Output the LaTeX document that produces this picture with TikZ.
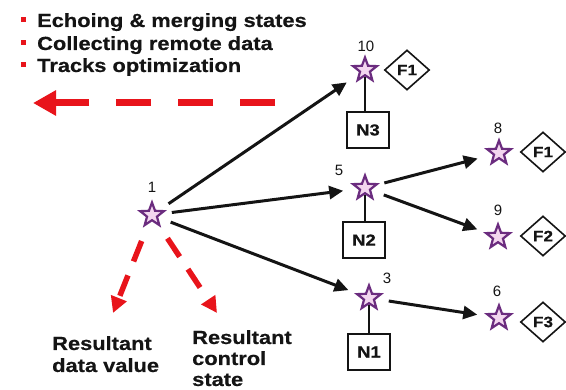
\documentclass[tikz,border=0pt]{standalone}
\usepackage{fontspec}
\setmainfont{Liberation Sans}
\newfontfamily\heavy{Liberation Sans Bold}[FakeStretch=1.15,FakeBold=0.5]
\usetikzlibrary{shapes.geometric,arrows.meta}
\definecolor{starpurple}{HTML}{6B2C7F}
\definecolor{starfill}{HTML}{F3D6EF}
\definecolor{redarrow}{HTML}{E8141B}
\definecolor{ink}{HTML}{141414}
\tikzset{
  pstar/.style={shape=star, star points=5, star point ratio=2.4, minimum size=25pt, inner sep=0pt, draw=starpurple, line width=2.2pt, fill=starfill},
  nbox/.style={draw=ink, line width=1.6pt, minimum width=42pt, minimum height=36pt, inner sep=0pt, font=\heavy\fontsize{16}{18}\selectfont, text=ink},
  dia/.style={shape=diamond, draw=ink, line width=1.6pt, minimum width=45pt, minimum height=40pt, inner sep=0pt, font=\heavy\fontsize{15}{18}\selectfont, text=ink},
  num/.style={font=\fontsize{15}{18}\selectfont, inner sep=0pt, text=ink},
  arr/.style={draw=ink, line width=3pt, -{Triangle[length=14pt,width=13pt]}, shorten <=20pt, shorten >=22pt},
  stem/.style={draw=ink, line width=1.6pt},
  redbig/.style={draw=redarrow, line width=7pt, dash pattern=on 35pt off 27pt, -{Triangle[length=23pt,width=24pt]}},
  reddown/.style={draw=redarrow, line width=5.5pt, dash pattern=on 22pt off 15pt, -{Triangle[length=16pt,width=16pt]}, shorten <=28pt},
  bullet/.style={fill=redarrow, minimum size=5pt, inner sep=0pt},
  htext/.style={anchor=base west, inner sep=0pt, font=\heavy\fontsize{19}{22}\selectfont, text=ink}
}
\begin{document}
\begin{tikzpicture}[x=1pt,y=-1pt]
\useasboundingbox (0,0) rectangle (566,390);
% top legend
\node[bullet] (b1) at (23,20) {};
\node[bullet] (b2) at (23,43) {};
\node[bullet] (b3) at (23,65) {};
\node[htext] (t1) at (37,27) {Echoing \& merging states};
\node[htext] (t2) at (37,50) {Collecting remote data};
\node[htext] (t3) at (37,72) {Tracks optimization};
\coordinate (rs) at (275,103);
\coordinate (rt) at (33,103);
\draw[redbig] (rs) -- (rt);
% stars and labels
\node[pstar] (s1) at (152,215) {};
\node[num] (l1) at (152,187) {1};
\node[pstar] (s10) at (365,70) {};
\node[num] (l10) at (366,46) {10};
\node[dia] (f10) at (407,70) {F1};
\node[nbox] (n3) at (368,130) {N3};
\node[pstar] (s5) at (365,188) {};
\node[num] (l5) at (339,170) {5};
\node[nbox] (n2) at (364,240) {N2};
\node[pstar] (s3) at (369,298) {};
\node[num] (l3) at (387,278) {3};
\node[nbox] (n1) at (369,352) {N1};
\node[pstar] (s8) at (499,153) {};
\node[num] (l8) at (498,128) {8};
\node[dia] (f8) at (543,152) {F1};
\node[pstar] (s9) at (498,237) {};
\node[num] (l9) at (498,210) {9};
\node[dia] (f9) at (543,236) {F2};
\node[pstar] (s6) at (499,318) {};
\node[num] (l6) at (497,291) {6};
\node[dia] (f6) at (543,322) {F3};
% stems
\draw[stem] (s10.south) -- (n3.north -| s10.south);
\draw[stem] (s5.south) -- (n2.north -| s5.south);
\draw[stem] (s3.south) -- (n1.north -| s3.south);
% arrows
\draw[arr] (s1.center) -- (s10.center);
\draw[arr] (s1.center) -- (s5.center);
\draw[arr] (s1.center) -- (s3.center);
\draw[arr] (s5.center) -- (s8.center);
\draw[arr] (s5.center) -- (s9.center);
\draw[arr] (s3.center) -- (s6.center);
% red down arrows
\coordinate (tl) at (113,313);
\coordinate (tr) at (217,313);
\draw[reddown] (s1.center) -- (tl);
\draw[reddown] (s1.center) -- (tr);
% bottom texts
\node[htext] (r1) at (52,350) {Resultant};
\node[htext] (r2) at (52,372) {data value};
\node[htext] (r3) at (192,344) {Resultant};
\node[htext] (r4) at (192,365) {control};
\node[htext] (r5) at (192,386) {state};
\end{tikzpicture}
\end{document}
